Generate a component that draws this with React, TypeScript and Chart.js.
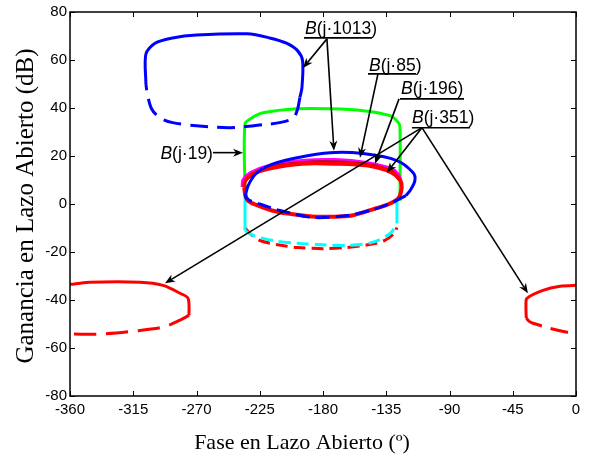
import { useEffect, useRef } from 'react';
import Chart from 'chart.js/auto';

type P = [number, number];

const xTickValues = [-360, -315, -270, -225, -180, -135, -90, -45, 0];
const yTickValues = [-80, -60, -40, -20, 0, 20, 40, 60, 80];

// Template for B(j·1013), upper-left
const blueTopSolid: P[] = [[-306, 50], [-306, 62.5], [-299.5, 67], [-287, 69.2], [-270, 70.4], [-234, 70.9], [-218, 69.2], [-206, 67], [-198, 63.8], [-194.5, 59.6], [-195, 48.4], [-196.5, 44.3]];
const blueTopDashed: P[] = [[-196.5, 44.3], [-198, 39.7], [-201, 35.9], [-210, 34], [-223, 33], [-246, 31.8], [-270, 32.6], [-287, 33.9], [-296, 35.9], [-302, 39.7], [-305, 45.9], [-306, 50]];

// Template for B(j·19)
const greenSolid: P[] = [[-235.5, 5], [-235.5, 33.4], [-230.5, 35.9], [-222.7, 38], [-198.5, 39.7], [-175, 39.7], [-151.5, 38.9], [-132.3, 36.8], [-126.5, 34], [-125.2, 31.8], [-125.2, 1.4]];
const cyanLeft: P[] = [[-235.5, 5], [-235.5, -11]];
const cyanDashed: P[] = [[-235.5, -11], [-229.8, -13.1], [-215, -15.3], [-198.5, -16.4], [-180, -17], [-162.9, -17.3], [-145, -16], [-132.3, -12.3], [-127.4, -8.1]];
const cyanRight: P[] = [[-127.4, -8.1], [-127.4, 1.4]];
const redLowerDashed: P[] = [[-235.5, -10], [-232, -12.3], [-224.8, -15.2], [-210, -17.2], [-198.5, -18.1], [-180, -18.6], [-163, -18.1], [-148, -17], [-136, -15.2], [-129, -12], [-127.4, -9.8]];

// Ellipses near the centre
const magentaArc: P[] = [[-237.5, 7], [-237, 10], [-232, 13], [-219, 16], [-195, 18.1], [-171.5, 18.5], [-148, 17.2], [-131, 14.7], [-126.5, 12.5], [-124.5, 9.5]];
const darkRedArc: P[] = [[-234, 10.5], [-219, 15.2], [-195, 17.3], [-171.5, 17.6], [-148, 16.6], [-131, 13.8], [-126, 10.8]];
const redEllipse: P[] = [[-236, 6.8], [-235.5, 9.5], [-230, 12.5], [-219, 14.7], [-195, 16.8], [-171.5, 16.8], [-148, 16], [-131, 13.1], [-125, 9.8], [-124, 6.8], [-126.6, 2.3], [-135, -0.5], [-143, -1.9], [-159.4, -4.8], [-175, -5.3], [-188, -5.2], [-205, -4], [-216.3, -2.7], [-228, -0.3], [-233.4, 1.4], [-235.5, 4.4], [-236, 6.8]];
const blueEllipseSolid: P[] = [[-235.5, 3], [-233, 8], [-227, 13.1], [-215, 16.8], [-198.5, 19.3], [-175, 21.4], [-151.5, 21], [-127.4, 18.1], [-116, 13.1], [-114.6, 9.8], [-118, 5.6], [-121, 3.5]];
const blueEllipseDashed: P[] = [[-121, 3.5], [-132.3, 0.2], [-147, -2.8], [-162.9, -4.8], [-187, -5.6], [-210.6, -2.7], [-225, 0], [-232, 1.4], [-235.5, 3]];

// Template for B(j·351), wrapping across -360 / 0
const leftRedSolid: P[] = [[-366, -33.4], [-358, -33.4], [-345.8, -32.6], [-310.2, -32.6], [-293.8, -33.9], [-281.7, -37.2], [-276, -39.3], [-275.3, -46.4]];
const leftRedDashed: P[] = [[-275.3, -46.4], [-281.7, -48.4], [-293.8, -51.3], [-315.2, -53], [-338.7, -54.2], [-357.9, -54.2], [-366, -54.2]];
const rightRedSolid: P[] = [[6, -33.9], [0, -33.9], [-11.4, -34.3], [-23.5, -36], [-34.9, -39.3], [-35.6, -42], [-35.4, -47.5]];
const rightRedDashed: P[] = [[-35.4, -47.5], [-33, -49], [-30.6, -49.7], [-18.5, -51.8], [-6.4, -53.4], [0, -53.8], [6, -53.8]];

const BLUE = '#0000ff', GREEN = '#00ff00', CYAN = '#00ffff', MAGENTA = '#ff00ff', RED = '#ff0000', DARKRED = '#a00000';

// paint order: first = bottom
const curves: { pts: P[]; color: string; width: number; dash?: number[] }[] = [
  { pts: redLowerDashed, color: RED, width: 3, dash: [12, 6] },
  { pts: cyanLeft, color: CYAN, width: 3 },
  { pts: cyanDashed, color: CYAN, width: 3, dash: [12, 6] },
  { pts: cyanRight, color: CYAN, width: 3 },
  { pts: greenSolid, color: GREEN, width: 3 },
  { pts: magentaArc, color: MAGENTA, width: 3 },
  { pts: darkRedArc, color: DARKRED, width: 2.5 },
  { pts: redEllipse, color: RED, width: 4 },
  { pts: blueEllipseSolid, color: BLUE, width: 3 },
  { pts: blueEllipseDashed, color: BLUE, width: 3, dash: [14, 6] },
  { pts: blueTopSolid, color: BLUE, width: 3 },
  { pts: blueTopDashed, color: BLUE, width: 3, dash: [18, 9] },
  { pts: leftRedSolid, color: RED, width: 3 },
  { pts: leftRedDashed, color: RED, width: 3, dash: [22, 10] },
  { pts: rightRedSolid, color: RED, width: 3 },
  { pts: rightRedDashed, color: RED, width: 3, dash: [18, 9] },
];

// Annotations (data coordinates)
const labelFreqs = ['1013', '85', '196', '351'];
const labelPos: P[] = [[-192.8, 70.9], [-147.3, 55.5], [-124.5, 45.9], [-116.7, 33.9]];
const underlineSpan: [number, number, number][] = [[-193.5, -145.1, 69.2], [-148, -113.8, 54.2], [-125.2, -79.7, 43.8], [-116.7, -75.4, 31.8]];
const arrowOrigins: P[] = [[-177.2, 68.8], [-140.9, 54.2], [-125.9, 43.8], [-109.6, 31.8]];
const arrowTips: P[][] = [
  [[-194.2, 56.7], [-172.2, 22.2]],
  [[-153.7, 19.3]],
  [[-143, 16.8]],
  [[-134.5, 13.1], [-34.2, -37.2], [-292.4, -33]],
];
const sideLabelFreq = '19';
const sideLabelEnd: P = [-258.3, 21.4];
const sideLabelTip: P = [-236.9, 21.4];

const SANS = '"Liberation Sans", Arial, sans-serif';
const SERIF = '"Liberation Serif", "Times New Roman", serif';

function arrow(ctx: CanvasRenderingContext2D, x0: number, y0: number, x1: number, y1: number) {
  const ang = Math.atan2(y1 - y0, x1 - x0);
  const L = 10, W = 4, N = 7;
  ctx.beginPath();
  ctx.moveTo(x0, y0);
  ctx.lineTo(x1 - Math.cos(ang) * N, y1 - Math.sin(ang) * N);
  ctx.stroke();
  ctx.beginPath();
  ctx.moveTo(x1, y1);
  ctx.lineTo(x1 - Math.cos(ang) * L - Math.sin(ang) * W, y1 - Math.sin(ang) * L + Math.cos(ang) * W);
  ctx.lineTo(x1 - Math.cos(ang) * N, y1 - Math.sin(ang) * N);
  ctx.lineTo(x1 - Math.cos(ang) * L + Math.sin(ang) * W, y1 - Math.sin(ang) * L - Math.cos(ang) * W);
  ctx.closePath();
  ctx.fill();
}

function drawB(ctx: CanvasRenderingContext2D, x: number, y: number, freq: string, align: 'left' | 'right') {
  const size = 17.5;
  ctx.textBaseline = 'alphabetic';
  ctx.textAlign = 'left';
  ctx.font = `italic ${size}px ${SANS}`;
  const wB = ctx.measureText('B').width;
  ctx.font = `${size}px ${SANS}`;
  const rest = `(j\u00B7${freq})`;
  const wR = ctx.measureText(rest).width;
  const sx = align === 'left' ? x : x - wB - wR;
  ctx.font = `italic ${size}px ${SANS}`;
  ctx.fillText('B', sx, y);
  ctx.font = `${size}px ${SANS}`;
  ctx.fillText(rest, sx + wB, y);
}

const deco = {
  id: 'deco',
  afterDraw(chart: any) {
    const { ctx, chartArea: a, scales } = chart;
    const xs = scales.x, ys = scales.y;
    ctx.save();
    ctx.strokeStyle = '#000';
    ctx.fillStyle = '#000';
    // annotations
    ctx.lineWidth = 1.6;
    labelFreqs.forEach((f, i) => {
      const [tx, ty] = labelPos[i];
      drawB(ctx, xs.getPixelForValue(tx), ys.getPixelForValue(ty), f, 'left');
      const [u0, u1, uy] = underlineSpan[i];
      ctx.beginPath();
      ctx.moveTo(xs.getPixelForValue(u0), ys.getPixelForValue(uy));
      ctx.lineTo(xs.getPixelForValue(u1), ys.getPixelForValue(uy));
      ctx.stroke();
      const [ox, oy] = arrowOrigins[i];
      arrowTips[i].forEach(([px, py]) => {
        arrow(ctx, xs.getPixelForValue(ox), ys.getPixelForValue(oy), xs.getPixelForValue(px), ys.getPixelForValue(py));
      });
    });
    const sx = xs.getPixelForValue(sideLabelEnd[0]), sy = ys.getPixelForValue(sideLabelEnd[1]);
    drawB(ctx, sx, sy + 6, sideLabelFreq, 'right');
    arrow(ctx, sx, sy, xs.getPixelForValue(sideLabelTip[0]), ys.getPixelForValue(sideLabelTip[1]));

    // box
    ctx.lineWidth = 1.5;
    ctx.strokeRect(a.left, a.top, a.right - a.left, a.bottom - a.top);
    // inward ticks
    ctx.lineWidth = 1;
    ctx.beginPath();
    xTickValues.forEach((v) => {
      const px = Math.round(xs.getPixelForValue(v)) + 0.5;
      ctx.moveTo(px, a.bottom); ctx.lineTo(px, a.bottom - 5);
      ctx.moveTo(px, a.top); ctx.lineTo(px, a.top + 5);
    });
    yTickValues.forEach((v) => {
      const py = Math.round(ys.getPixelForValue(v)) + 0.5;
      ctx.moveTo(a.left, py); ctx.lineTo(a.left + 5, py);
      ctx.moveTo(a.right, py); ctx.lineTo(a.right - 5, py);
    });
    ctx.stroke();
    // axis titles
    ctx.textAlign = 'center';
    ctx.textBaseline = 'alphabetic';
    ctx.font = `22px ${SERIF}`;
    ctx.fillText('Fase en Lazo Abierto (\u00BA)', (a.left + a.right) / 2 - 21, 449);
    ctx.font = `25px ${SERIF}`;
    ctx.translate(33, (a.top + a.bottom) / 2 + 2);
    ctx.rotate(-Math.PI / 2);
    ctx.fillText('Ganancia en Lazo Abierto (dB)', 0, 0);
    ctx.restore();
  },
};

export default function App() {
  const ref = useRef<HTMLCanvasElement>(null);
  useEffect(() => {
    const N = curves.length;
    const tickFont = { family: SANS, size: 15 };
    const chart = new Chart(ref.current!, {
      type: 'scatter',
      data: {
        datasets: curves.map((c, i) => ({
          data: c.pts.map(([x, y]) => ({ x, y })),
          showLine: true,
          borderColor: c.color,
          backgroundColor: c.color,
          borderWidth: c.width,
          borderDash: c.dash ?? [],
          borderCapStyle: 'butt',
          borderJoinStyle: 'round',
          pointRadius: 0,
          pointHoverRadius: 0,
          tension: 0.3,
          fill: false,
          order: N - i,
        })) as any,
      },
      options: {
        animation: false,
        responsive: false,
        maintainAspectRatio: false,
        events: [],
        layout: { padding: { top: 11, right: 14, left: 0, bottom: 0 } },
        plugins: { legend: { display: false }, tooltip: { enabled: false } },
        scales: {
          x: {
            type: 'linear',
            min: -360,
            max: 0,
            afterBuildTicks: (s: any) => { s.ticks = xTickValues.map((v) => ({ value: v })); },
            afterFit: (s: any) => { s.height = 58; },
            grid: { display: false, drawTicks: false },
            border: { display: false },
            ticks: { padding: 5, color: '#000', font: tickFont, autoSkip: false, maxRotation: 0 },
          },
          y: {
            type: 'linear',
            min: -80,
            max: 80,
            afterBuildTicks: (s: any) => { s.ticks = yTickValues.map((v) => ({ value: v })); },
            afterFit: (s: any) => { s.width = 70; },
            grid: { display: false, drawTicks: false },
            border: { display: false },
            ticks: { padding: 3, color: '#000', font: tickFont, autoSkip: false },
          },
        },
      },
      plugins: [deco],
    });
    return () => chart.destroy();
  }, []);
  return (
    <div style={{ position: 'fixed', left: 0, top: 0, width: 590, height: 454, background: '#fff' }}>
      <canvas ref={ref} width={590} height={454} style={{ width: 590, height: 454, display: 'block' }} />
    </div>
  );
}
